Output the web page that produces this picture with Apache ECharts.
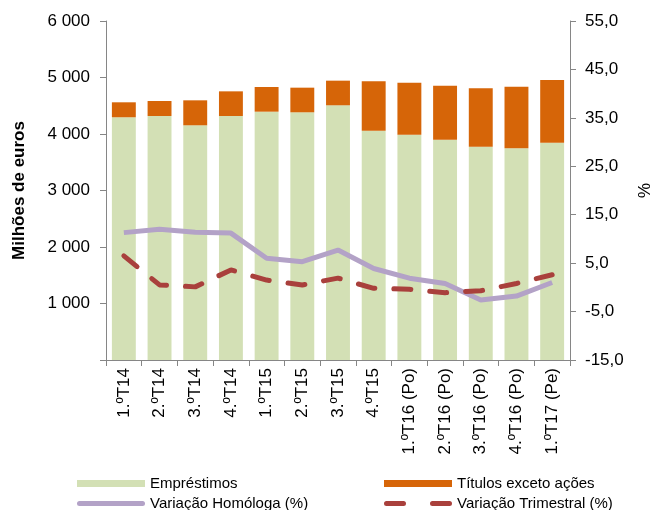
<!DOCTYPE html>
<html>
<head>
<meta charset="utf-8">
<script src="https://cdn.jsdelivr.net/npm/echarts@6/dist/echarts.min.js"></script>
<style>
  html, body { margin: 0; padding: 0; background: #fff; }
  #chart { width: 651px; height: 510px; }
</style>
</head>
<body>
<div id="chart"></div>
<script>
// trimestres
const categorias = ['1.ºT14', '2.ºT14', '3.ºT14', '4.ºT14', '1.ºT15', '2.ºT15', '3.ºT15', '4.ºT15',
  '1.ºT16 (Po)', '2.ºT16 (Po)', '3.ºT16 (Po)', '4.ºT16 (Po)', '1.ºT17 (Pe)']

// milhões de euros
const emprestimos = [4296, 4319, 4154, 4319, 4395, 4384, 4508, 4058, 3988, 3899, 3776, 3746, 3846]
const titulos = [265, 265, 442, 436, 437, 436, 436, 874, 921, 956, 1032, 1092, 1110]

// %
const variacaoHomologa = [11.3, 12.0, 11.4, 11.2, 6.0, 5.3, 7.7, 3.9, 1.9, 0.8, -2.6, -1.8, 1.0]
const variacaoTrimestral = [6.5, 0.5, 0.1, 3.6, 1.5, 0.5, 1.9, -0.2, -0.4, -1.1, -0.7, 0.8, 2.6]

const fonte = 'Liberation Sans, Arial, sans-serif'
const cinza = '#868686'
const verde = '#D3E0B5'
const laranja = '#D66508'
const lilas = '#B3A2C7'
const vermelho = '#A9403C'

const chart = echarts.init(document.getElementById('chart'))

// uma legenda por item, para ficar em duas colunas
const legenda = (nome, left, top, icon, altura) => ({
  data: [{ name: nome, icon: icon }],
  left: left,
  top: top,
  itemWidth: 68,
  itemHeight: altura,
  symbolKeepAspect: false,
  textStyle: { fontFamily: fonte, fontSize: 15, color: '#000' },
  selectedMode: false
})

const tracejado = 'path://M2.5,0h17a2.5,2.5 0 0 1 0,5h-17a2.5,2.5 0 0 1 0,-5z' +
  'M48.5,0h17a2.5,2.5 0 0 1 0,5h-17a2.5,2.5 0 0 1 0,-5z'
const continuo = 'path://M2.5,0h63a2.5,2.5 0 0 1 0,5h-63a2.5,2.5 0 0 1 0,-5z'

chart.setOption({
  animation: false,
  grid: { left: 106, right: 81, top: 21, bottom: 150, outerBoundsMode: 'none', containLabel: false },
  legend: [
    legenda('Empréstimos', 72, 471, 'rect', 7),
    legenda('Títulos exceto ações', 379, 471, 'rect', 7),
    legenda('Variação Homóloga (%)', 72, 491, continuo, 5),
    legenda('Variação Trimestral (%)', 379, 491, tracejado, 5)
  ],
  xAxis: {
    type: 'category',
    data: categorias,
    axisLine: { lineStyle: { color: cinza, width: 1 } },
    axisTick: { show: true, length: 6, lineStyle: { color: cinza } },
    axisLabel: {
      rotate: 90,
      interval: 0,
      margin: 8,
      fontFamily: fonte,
      fontSize: 17,
      color: '#000'
    }
  },
  yAxis: [
    {
      type: 'value',
      min: 0,
      max: 6000,
      interval: 1000,
      name: 'Milhões de euros',
      nameLocation: 'middle',
      nameGap: 78,
      nameTextStyle: { fontFamily: fonte, fontSize: 17, fontWeight: 'bold', color: '#000' },
      axisLine: { show: true, lineStyle: { color: cinza, width: 1 } },
      axisTick: { show: true, length: 6, lineStyle: { color: cinza } },
      splitLine: { show: false },
      axisLabel: {
        margin: 16,
        fontFamily: fonte,
        fontSize: 17,
        color: '#000',
        formatter: v => v === 0 ? '' : String(v).replace(/\B(?=(\d{3})+(?!\d))/g, ' ')
      }
    },
    {
      type: 'value',
      min: -15,
      max: 55,
      interval: 10,
      name: '%',
      nameLocation: 'middle',
      nameGap: 63,
      nameRotate: -90,
      nameTextStyle: { fontFamily: fonte, fontSize: 17, color: '#000' },
      axisLine: { show: true, lineStyle: { color: cinza, width: 1 } },
      axisTick: { show: true, length: 6, lineStyle: { color: cinza } },
      splitLine: { show: false },
      axisLabel: {
        margin: 15,
        fontFamily: fonte,
        fontSize: 17,
        color: '#000',
        formatter: v => v.toFixed(1).replace('.', ',')
      }
    }
  ],
  series: [
    {
      name: 'Empréstimos',
      type: 'bar',
      stack: 'total',
      barWidth: '67%',
      data: emprestimos,
      itemStyle: { color: verde }
    },
    {
      name: 'Títulos exceto ações',
      type: 'bar',
      stack: 'total',
      barWidth: '67%',
      data: titulos,
      itemStyle: { color: laranja }
    },
    {
      name: 'Variação Homóloga (%)',
      type: 'line',
      yAxisIndex: 1,
      symbol: 'none',
      data: variacaoHomologa,
      lineStyle: { color: lilas, width: 5 },
      itemStyle: { color: lilas }
    },
    {
      name: 'Variação Trimestral (%)',
      type: 'line',
      yAxisIndex: 1,
      symbol: 'none',
      data: variacaoTrimestral,
      lineStyle: { color: vermelho, width: 5, type: [17, 19], cap: 'round' },
      itemStyle: { color: vermelho }
    }
  ]
})
</script>
</body>
</html>
